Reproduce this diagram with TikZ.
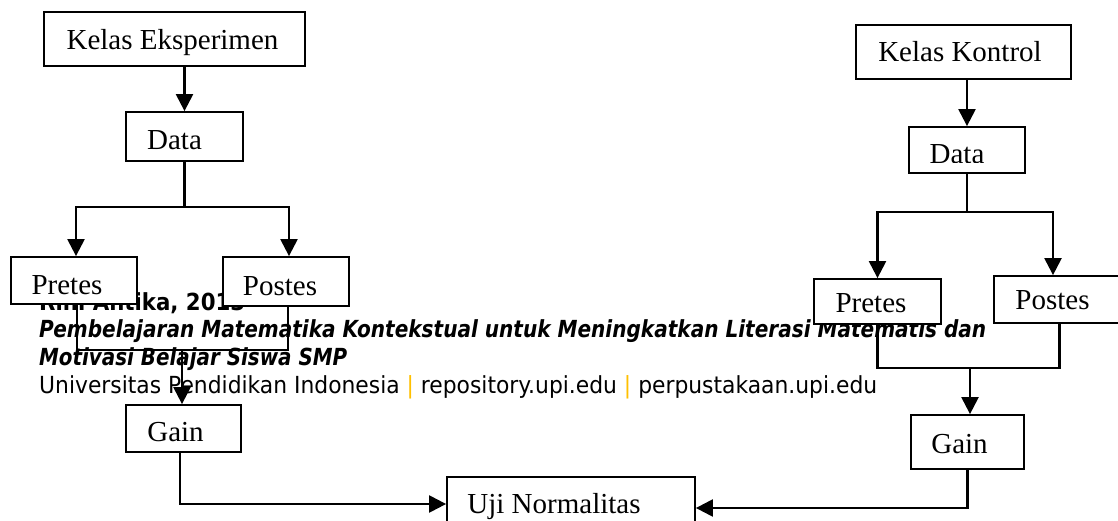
\documentclass[tikz,border=0pt]{standalone}
\usepackage{fontspec}
\setmainfont{Liberation Serif}
\newfontfamily\footfont{DejaVu Sans}
\usetikzlibrary{arrows.meta,fit,calc}
\definecolor{upiyellow}{RGB}{255,192,0}
\tikzset{
 box/.style={draw, line width=1.8pt, fill=white, inner sep=0pt},
 lbl/.style={inner sep=0pt, anchor=base, font=\fontsize{29}{34}\selectfont},
 conn/.style={line width=2.3pt},
 arr/.style={conn, -{Triangle[width=17pt,length=17pt]}},
 arrboth/.style={conn, {Triangle[width=17pt,length=17pt]}-{Triangle[width=17pt,length=17pt]}},
 ft/.style={inner sep=0pt, anchor=base west, font=\footfont\fontsize{23.5}{28}\selectfont},
}
\begin{document}
\begin{tikzpicture}[x=1pt,y=-1pt]
\useasboundingbox (0,0) rectangle (1118,521);
\clip (0,0) rectangle (1118,521);
\fill[white] (0,0) rectangle (1118,521);
% footer text (behind the diagram)
\node[ft] (f1) at (39,310) {\resizebox{206pt}{\height}{\bfseries Rini Antika, 2013}};
\node[ft] (f2) at (39,337) {\resizebox{947pt}{\height}{\bfseries\itshape Pembelajaran Matematika Kontekstual untuk Meningkatkan Literasi Matematis dan}};
\node[ft] (f3) at (39,365) {\resizebox{308pt}{\height}{\bfseries\itshape Motivasi Belajar Siswa SMP}};
\node[ft] (f4) at (39,393) {\resizebox{838pt}{\height}{Universitas Pendidikan Indonesia \textcolor{upiyellow}{|} repository.upi.edu \textcolor{upiyellow}{|} perpustakaan.upi.edu}};
% boxes
\node[box, fit={(44,12) (305,66)}] (KE) {};
\node[box, fit={(126,112) (243,161)}] (DataL) {};
\node[box, fit={(11,257) (137,304)}] (PretesL) {};
\node[box, fit={(223,257) (349,306)}] (PostesL) {};
\node[box, fit={(126,405) (241,452)}] (GainL) {};
\node[box, fit={(447,477) (695,535)}] (Uji) {};
\node[box, fit={(856,25) (1071,79)}] (KK) {};
\node[box, fit={(909,127) (1025,173)}] (DataR) {};
\node[box, fit={(814,279) (941,324)}] (PretesR) {};
\node[box, fit={(994,276) (1125,323)}] (PostesR) {};
\node[box, fit={(911,415) (1024,469)}] (GainR) {};
% labels
\node[lbl] (tKE) at (172.5,50) {Kelas Eksperimen};
\node[lbl] (tDataL) at (174.5,150) {Data};
\node[lbl] (tPretesL) at (67,294) {Pretes};
\node[lbl] (tPostesL) at (280,295) {Postes};
\node[lbl] (tGainL) at (175.5,441) {Gain};
\node[lbl] (tUji) at (554,513) {Uji Normalitas};
\node[lbl] (tKK) at (960,62) {Kelas Kontrol};
\begin{scope}
\clip (909,127) rectangle (1025,162.5);
\node[lbl] (tDataR) at (957,164) {Data};
\end{scope}
\node[lbl] (tPretesR) at (871,312) {Pretes};
\node[lbl] (tPostesR) at (1052.5,309) {Postes};
\node[lbl] (tGainR) at (959.5,453) {Gain};
% connectors left
\draw[arr] (KE.south -| DataL.north) -- (DataL.north);
\coordinate (jL) at (184.5,207);
\draw[conn] (DataL.south) -- (jL);
\draw[arrboth] ($(PretesL.north)+(2,0)$) -- ($(PretesL.north |- jL)+(2,0)$) -- ($(PostesL.north |- jL)+(3,0)$) -- ($(PostesL.north)+(3,0)$);
\coordinate (mL) at (182,350);
\draw[conn] ($(PretesL.south)+(3,0)$) -- ($(PretesL.south |- mL)+(3,0)$) -- ($(PostesL.south |- mL)+(2,0)$) -- ($(PostesL.south)+(2,0)$);
\draw[arr] (mL) -- (mL |- GainL.north);
\draw[arr] ($(GainL.south)+(-3.5,0)$) |- ($(Uji.west)+(0,-2)$);
% connectors right
\draw[arr] (KK.south -| DataR.north) -- (DataR.north);
\coordinate (jR) at (967,212);
\draw[conn] (DataR.south) -- (jR);
\draw[arrboth] (PretesR.north) -- (PretesR.north |- jR) -- ($(PostesR.north |- jR)+(-6.5,0)$) -- ($(PostesR.north)+(-6.5,0)$);
\coordinate (mR) at (970,368);
\draw[conn] (PretesR.south) -- (PretesR.south |- mR) -- (PostesR.south |- mR) -- (PostesR.south);
\draw[arr] (mR) -- (mR |- GainR.north);
\draw[arr] (GainR.south) |- ($(Uji.east)+(0,2)$);
\end{tikzpicture}
\end{document}
